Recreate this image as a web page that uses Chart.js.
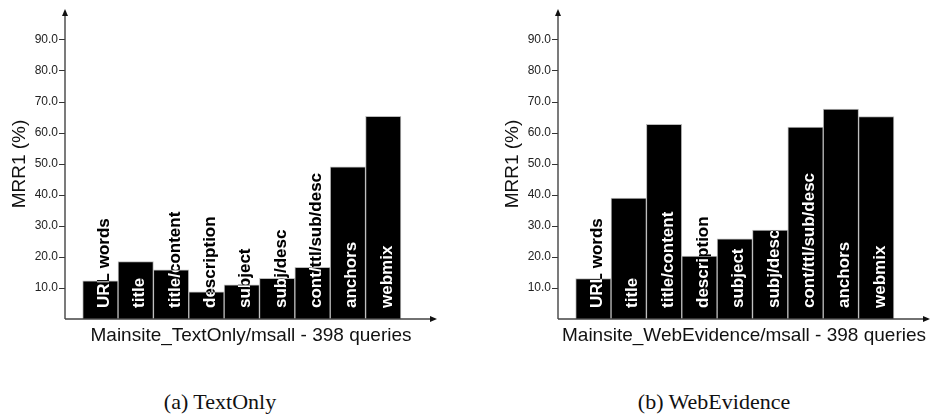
<!DOCTYPE html>
<html><head><meta charset="utf-8">
<script src="https://cdn.jsdelivr.net/npm/chart.js@4"></script>
<style>
html,body{margin:0;padding:0;background:#fff;width:931px;height:416px;overflow:hidden;position:relative}
.panel{position:absolute;top:0;width:438px;height:360px}
.cap{position:absolute;top:391px;width:300px;text-align:center;font-family:"Liberation Serif","Times New Roman",serif;font-size:22px;line-height:22px;color:#111}
</style></head><body>
<div class="panel" style="left:0"><canvas id="c1" width="438" height="360"></canvas></div>
<div class="panel" style="left:493px"><canvas id="c2" width="438" height="360"></canvas></div>
<div class="cap" style="left:70px">(a) TextOnly</div>
<div class="cap" style="left:564px">(b) WebEvidence</div>
<script>
const categories = ['URL words','title','title/content','description','subject','subj/desc','cont/ttl/sub/desc','anchors','webmix'];
const textOnlyValues = [12.3,18.5,15.9,8.8,11.0,13.1,16.7,49.1,65.4];
const webEvidenceValues = [13.0,39.0,62.8,20.3,25.9,28.7,61.9,67.7,65.3];
const yTicks = [10,20,30,40,50,60,70,80,90];
const yTitle = 'MRR1 (%)';
const xTitleTextOnly = 'Mainsite_TextOnly/msall - 398 queries';
const xTitleWebEvidence = 'Mainsite_WebEvidence/msall - 398 queries';

const SANS = '"Liberation Sans", Arial, Helvetica, sans-serif';

const whiteBg = {
  id: 'whiteBg',
  beforeDraw(chart) {
    const ctx = chart.ctx;
    ctx.save();
    ctx.fillStyle = '#fff';
    ctx.fillRect(0, 0, chart.width, chart.height);
    ctx.restore();
  }
};

const axesAndLabels = {
  id: 'axesAndLabels',
  afterDatasetsDraw(chart) {
    const ctx = chart.ctx;
    const a = chart.chartArea;
    ctx.save();
    ctx.strokeStyle = '#444';
    ctx.fillStyle = '#111';
    ctx.lineWidth = 1.4;
    ctx.beginPath();
    ctx.moveTo(a.left, a.bottom);
    ctx.lineTo(a.left, a.top + 3);
    ctx.moveTo(a.left, a.bottom);
    ctx.lineTo(a.right - 3, a.bottom);
    ctx.stroke();
    ctx.beginPath();
    ctx.moveTo(a.left, a.top);
    ctx.lineTo(a.left - 3, a.top + 7);
    ctx.lineTo(a.left + 3, a.top + 7);
    ctx.closePath();
    ctx.fill();
    ctx.beginPath();
    ctx.moveTo(a.right, a.bottom);
    ctx.lineTo(a.right - 7, a.bottom - 3);
    ctx.lineTo(a.right - 7, a.bottom + 3);
    ctx.closePath();
    ctx.fill();
    const meta = chart.getDatasetMeta(0);
    ctx.globalCompositeOperation = 'difference';
    ctx.fillStyle = '#fff';
    ctx.font = 'bold 17px ' + SANS;
    ctx.textAlign = 'left';
    ctx.textBaseline = 'alphabetic';
    meta.data.forEach((bar, i) => {
      ctx.save();
      ctx.translate(bar.x + 8.5, a.bottom - 11);
      ctx.rotate(-Math.PI / 2);
      ctx.fillText(categories[i], 0, 0);
      ctx.restore();
    });
    ctx.restore();
  }
};

function makeChart(id, values, xTitle) {
  return new Chart(document.getElementById(id), {
    type: 'bar',
    data: {
      datasets: [{
        data: values.map((v, i) => ({x: i, y: v})),
        backgroundColor: '#000',
        borderColor: '#bbb',
        borderWidth: 1,
        barPercentage: 1,
        categoryPercentage: 1
      }]
    },
    options: {
      responsive: false,
      animation: false,
      layout: {padding: {left: 0, top: 9, right: 1, bottom: 0}},
      plugins: {legend: {display: false}, tooltip: {enabled: false}},
      scales: {
        x: {
          type: 'linear',
          offset: false,
          min: -1,
          max: 9.52,
          ticks: {display: false},
          grid: {display: false, offset: false},
          border: {display: false},
          title: {display: true, text: xTitle, color: '#111', font: {family: SANS, size: 19}, padding: {top: 4, bottom: 13}},
          afterFit(scale) { scale.height = 41; }
        },
        y: {
          min: 0,
          max: 100,
          afterBuildTicks(scale) { scale.ticks = yTicks.map(v => ({value: v})); },
          ticks: {
            color: '#222',
            font: {family: SANS, size: 12},
            padding: 1,
            callback: (v) => Number(v).toFixed(1)
          },
          grid: {display: true, drawOnChartArea: false, drawTicks: true, tickLength: 6, color: '#333', lineWidth: 1},
          border: {display: false},
          title: {display: true, text: yTitle, color: '#111', font: {family: SANS, size: 19}, padding: {top: 8, bottom: 0}},
          afterFit(scale) { scale.width = 65; }
        }
      }
    },
    plugins: [whiteBg, axesAndLabels]
  });
}

makeChart('c1', textOnlyValues, xTitleTextOnly);
makeChart('c2', webEvidenceValues, xTitleWebEvidence);
</script>
</body></html>
